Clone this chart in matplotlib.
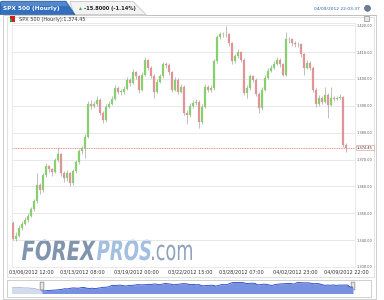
#### Workspace setup ####
import matplotlib
matplotlib.use("Agg")
import matplotlib.pyplot as plt
import numpy as np
from matplotlib.patches import Rectangle, Polygon, PathPatch, FancyBboxPatch, Circle
from matplotlib.textpath import TextPath
from matplotlib.font_manager import FontProperties
from matplotlib.transforms import Affine2D, blended_transform_factory

#### Data (SPX 500 hourly) ####
first_open = 1346.5
closes = [
    1340.5, 1341.6, 1344.6, 1346.1, 1347.6, 1349.1, 1351.7, 1354.4, 1360.4, 1358.5,
    1364.1, 1367.5, 1366.4, 1365.2, 1369.7, 1372.0, 1364.9, 1363.0, 1364.9, 1361.1,
    1365.6, 1369.0, 1373.1, 1374.2, 1378.4, 1390.7, 1390.0, 1390.7, 1392.2, 1387.4,
    1384.7, 1389.6, 1390.7, 1392.6, 1396.7, 1395.2, 1395.2, 1396.4, 1399.7, 1398.6,
    1402.4, 1400.9, 1396.0, 1401.6, 1406.9, 1404.2, 1401.2, 1395.2, 1399.0, 1400.9,
    1405.4, 1405.0, 1402.4, 1396.0, 1399.7, 1395.2, 1397.1, 1387.4, 1386.6, 1390.0,
    1391.1, 1391.5, 1384.0, 1389.6, 1397.1, 1396.0, 1396.7, 1406.5, 1415.5, 1416.6,
    1416.6, 1416.6, 1413.2, 1406.5, 1408.4, 1409.9, 1407.2, 1394.9, 1396.7, 1400.9,
    1399.7, 1394.5, 1389.2, 1396.0, 1400.5, 1403.1, 1404.2, 1405.7, 1407.2, 1405.4,
    1401.6, 1414.7, 1414.7, 1413.2, 1412.9, 1412.9, 1409.1, 1404.2, 1406.1, 1404.2,
    1396.0, 1390.7, 1393.0, 1391.5, 1394.1, 1390.4, 1393.0, 1392.6, 1393.0, 1393.4,
    1375.4, 1374.45,
]
highs = [
    1347.0, 1343.0, 1345.5, 1347.0, 1348.5, 1350.2, 1352.5, 1355.2, 1364.9, 1361.2,
    1365.0, 1368.6, 1368.0, 1367.0, 1370.5, 1374.2, 1372.5, 1365.8, 1366.0, 1365.5,
    1366.4, 1370.0, 1374.0, 1375.0, 1379.5, 1391.8, 1392.0, 1391.8, 1393.5, 1392.8,
    1388.0, 1390.5, 1391.8, 1393.8, 1397.6, 1397.5, 1396.2, 1397.3, 1400.8, 1400.5,
    1403.5, 1403.0, 1401.5, 1402.5, 1408.0, 1407.5, 1404.8, 1401.8, 1400.0, 1401.8,
    1406.3, 1406.2, 1405.8, 1403.0, 1400.6, 1400.2, 1398.0, 1397.8, 1388.4, 1391.0,
    1392.0, 1392.6, 1392.0, 1390.5, 1398.0, 1397.8, 1397.6, 1407.4, 1416.4, 1417.5,
    1417.6, 1419.6, 1417.2, 1413.8, 1409.3, 1411.0, 1410.5, 1407.8, 1397.6, 1401.8,
    1401.6, 1400.3, 1395.0, 1397.0, 1401.4, 1404.0, 1405.2, 1406.8, 1408.2, 1407.8,
    1406.0, 1417.5, 1415.6, 1415.2, 1414.0, 1413.8, 1413.4, 1409.6, 1407.0, 1406.8,
    1404.8, 1396.6, 1393.9, 1393.6, 1397.1, 1394.8, 1397.1, 1393.8, 1393.8, 1394.2,
    1393.8, 1376.3,
]
lows = [
    1340.0, 1339.8, 1341.0, 1343.8, 1345.5, 1346.8, 1348.5, 1351.0, 1353.8, 1357.0,
    1358.0, 1363.5, 1365.2, 1364.0, 1364.8, 1369.0, 1364.0, 1361.6, 1362.0, 1360.2,
    1360.5, 1365.0, 1368.5, 1372.0, 1370.5, 1378.0, 1388.8, 1389.0, 1390.0, 1386.5,
    1383.5, 1384.0, 1389.0, 1390.2, 1392.0, 1394.2, 1394.0, 1394.5, 1396.0, 1397.5,
    1398.0, 1399.8, 1394.9, 1395.5, 1401.0, 1403.2, 1400.2, 1393.0, 1394.8, 1398.5,
    1400.5, 1404.0, 1401.6, 1395.0, 1395.5, 1394.3, 1394.8, 1386.5, 1383.4, 1386.0,
    1389.3, 1390.4, 1381.7, 1383.2, 1389.0, 1395.0, 1395.3, 1396.0, 1406.0, 1415.0,
    1415.6, 1415.5, 1412.3, 1405.6, 1406.0, 1407.8, 1406.2, 1394.0, 1393.0, 1396.0,
    1398.8, 1393.6, 1387.4, 1388.5, 1395.4, 1400.0, 1402.6, 1403.6, 1405.0, 1404.4,
    1400.9, 1401.0, 1413.5, 1412.4, 1412.0, 1411.8, 1408.2, 1401.5, 1403.6, 1403.3,
    1395.0, 1389.6, 1390.0, 1390.7, 1391.0, 1385.5, 1389.8, 1391.8, 1392.0, 1392.5,
    1374.8, 1372.8,
]
# navigator: hourly closes before the visible window
nav_earlier = [1366, 1368, 1370, 1369, 1371, 1369, 1367, 1368, 1365, 1364, 1358, 1350]

last_price = 1374.45
price_ticks = [1340, 1350, 1360, 1370, 1380, 1390, 1400, 1410, 1420]
xtick_pos = [6, 23, 41, 59, 76, 94, 111]
xtick_labels = [
    "03/06/2012 12:00", "03/13/2012 08:00", "03/19/2012 00:00", "03/22/2012 15:00",
    "03/28/2012 07:00", "04/02/2012 23:00", "04/09/2012 22:00",
]

#### Colours ####
UP = "#86d06e"
DOWN = "#e09496"
WICK = "#8f8f8f"
GRID = "#e4e4e4"
FRAME = "#c8c8c8"

W, H = 384, 300


def box(px_left, px_top, px_right, px_bottom):
    # pixel box (top-left origin) -> figure fraction rect
    return [px_left / W, 1 - px_bottom / H, (px_right - px_left) / W, (px_bottom - px_top) / H]


def stretched_text(axis, s, x0, width, baseline, cap, color, prop):
    # draw text squeezed into a pixel box (watermark font is very condensed)
    tp = TextPath((0, 0), s, size=10, prop=prop)
    bb = tp.get_extents()
    cap_ref = TextPath((0, 0), "H", size=10, prop=prop).get_extents().height
    tr = Affine2D().translate(-bb.x0, 0).scale(width / bb.width, -cap / cap_ref).translate(x0, baseline)
    axis.add_patch(PathPatch(tr.transform_path(tp), fc=color, ec="none", zorder=1))


def main():
    fig = plt.figure(figsize=(W / 100, H / 100), dpi=100)
    fig.patch.set_facecolor("white")

    #### Decoration layer in pixel coordinates ####
    deco = fig.add_axes([0, 0, 1, 1], zorder=0)
    deco.set_xlim(0, W)
    deco.set_ylim(H, 0)
    deco.axis("off")

    # frames
    deco.add_patch(Rectangle((3, 14.5), 373, 284, fill=False, ec=FRAME, lw=0.6))
    deco.add_patch(Rectangle((6.5, 16.5), 367, 260, fill=False, ec="#d6d6d6", lw=0.5))

    # header tabs
    deco.add_patch(Polygon([(70, 1.5), (133, 1.5), (146, 14.5), (74, 14.5)],
                           closed=True, fc="#f3f3f3", ec="#bdbdbd", lw=0.5))
    deco.add_patch(Polygon([(0, 14.5), (0, 2.5), (1.5, 1.2), (66, 1.2), (75, 14.5)],
                           closed=True, fc="#336fbe", ec="#2a5c9e", lw=0.5))
    deco.add_patch(Polygon([(1, 2), (66, 2), (68.5, 6), (1, 6)], closed=True,
                           fc="#6d9ad4", ec="none", alpha=0.6))
    deco.plot([146, 376], [14.5, 14.5], color="#bdbdbd", lw=0.6)
    deco.text(3, 8.6, "SPX 500 (Hourly)", fontsize=4.2, weight="bold",
              color="white", va="center", ha="left")
    deco.plot(80, 8.3, marker="^", ms=2.2, color="#4caf50", mec="none")
    deco.text(84, 8.6, "-15.8000 (-1.14%)", fontsize=3.7, weight="bold",
              color="#222222", va="center", ha="left")
    deco.text(360, 8.6, "04/09/2012 22:03:37", fontsize=3.2, color="#2b5fa8",
              va="center", ha="right")
    deco.add_patch(Circle((367.5, 8.3), 3.0, fc="#6d7d99", ec="#4a5a75", lw=0.4))

    # legend line
    deco.add_patch(Rectangle((10, 16), 4.5, 6, fc="#cc2222", ec="none"))
    deco.add_patch(Rectangle((10, 19), 2, 3, fc="#22aa22", ec="none"))
    deco.text(19, 19.2, "SPX 500 (Hourly):1,374.45", fontsize=3.6, color="#333333",
              va="center", ha="left")
    deco.add_patch(Rectangle((364, 15.5), 5, 5, fc="#e8e8e8", ec="#777777", lw=0.4))

    # watermark
    wm_bold = FontProperties(family="DejaVu Sans", weight="bold", style="italic")
    wm_norm = FontProperties(family="DejaVu Sans")
    stretched_text(deco, "FOREX", 22, 74, 260, 20, "#8194ad", wm_bold)
    stretched_text(deco, "PROS", 97, 54, 260, 20, "#a2bfe2", wm_bold)
    stretched_text(deco, ".com", 152, 40, 260, 20, "#8ea2bc", wm_norm)

    # navigator box
    deco.add_patch(Rectangle((7, 279.5), 364, 17.5, fc="white", ec=FRAME, lw=0.6))

    #### Main candlestick axes ####
    ax = fig.add_axes(box(12, 23, 355, 267), zorder=2)
    ax.patch.set_alpha(0)

    c = np.array(closes)
    o = np.concatenate([[first_open], c[:-1]])
    hi = np.array(highs)
    lo = np.array(lows)
    idx = np.arange(len(c))
    colors = np.where(c >= o, UP, DOWN)

    ax.vlines(idx, lo, hi, color=WICK, lw=0.4, zorder=2)
    body_bottom = np.minimum(o, c)
    body_height = np.maximum(np.abs(c - o), 0.25)
    ax.bar(idx, body_height, bottom=body_bottom, width=0.42, color=colors,
           edgecolor=colors, lw=0.15, zorder=3)

    # last price line + label
    ax.axhline(last_price, color="#e06666", lw=0.5, dashes=(1.5, 1.0), zorder=1)
    trans = blended_transform_factory(ax.transAxes, ax.transData)
    ax.text(1.006, last_price, f"{last_price:,.2f}", transform=trans, fontsize=2.6,
            color="#333333", va="center", ha="left",
            bbox=dict(boxstyle="square,pad=0.25", fc="white", ec="#e8a0a0", lw=0.5))

    ax.set_xlim(-1 / 3, 114)
    ax.set_ylim(1330, 1420.8)
    ax.yaxis.tick_right()
    ax.set_yticks(price_ticks)
    ax.set_yticklabels([f"{v:,.2f}" for v in price_ticks])
    ax.tick_params(axis="y", length=0, pad=1.5, labelsize=2.5, labelcolor="#555555")
    ax.set_xticks(xtick_pos)
    ax.set_xticklabels(xtick_labels)
    ax.tick_params(axis="x", length=0, pad=1.8, labelsize=3.6, labelcolor="#333333")
    ax.grid(axis="y", color=GRID, lw=0.6, zorder=0)
    ax.set_axisbelow(True)
    for side in ["left", "right", "top", "bottom"]:
        ax.spines[side].set_color("#e2e2e2")
        ax.spines[side].set_linewidth(0.5)
    # bottom price label sits on the lower frame
    ax.text(1.006, 1330, "1,330.00", transform=trans, fontsize=2.5,
            color="#555555", va="center", ha="left")

    #### Navigator ####
    nav = fig.add_axes(box(12, 281, 353, 293.5), zorder=2)
    nav.patch.set_alpha(0)
    early_x = np.arange(-len(nav_earlier), 1)
    early_y = nav_earlier + [closes[0]]
    nav.fill_between(early_x, early_y, 1318, color="#d3dbee", lw=0)
    nav.plot(early_x, early_y, color="#9aaad0", lw=0.5)
    nav.fill_between(idx, c, 1318, color="#7890e0", lw=0)
    nav.plot(idx, c, color="#2140c0", lw=0.6)
    nav.set_xlim(-10.7, 111)
    nav.set_ylim(1318, 1429)
    nav.axis("off")
    for hx in (42, 353):
        deco.add_patch(FancyBboxPatch((hx - 1.5, 282.5), 3, 7,
                                      boxstyle="round,pad=0.4", fc="#e6e6e6",
                                      ec="#666666", lw=0.4, zorder=5))

    fig.savefig("out.png", dpi=100)
    plt.close(fig)


#### ENTRY POINT ####
if __name__ == "__main__":
    main()
